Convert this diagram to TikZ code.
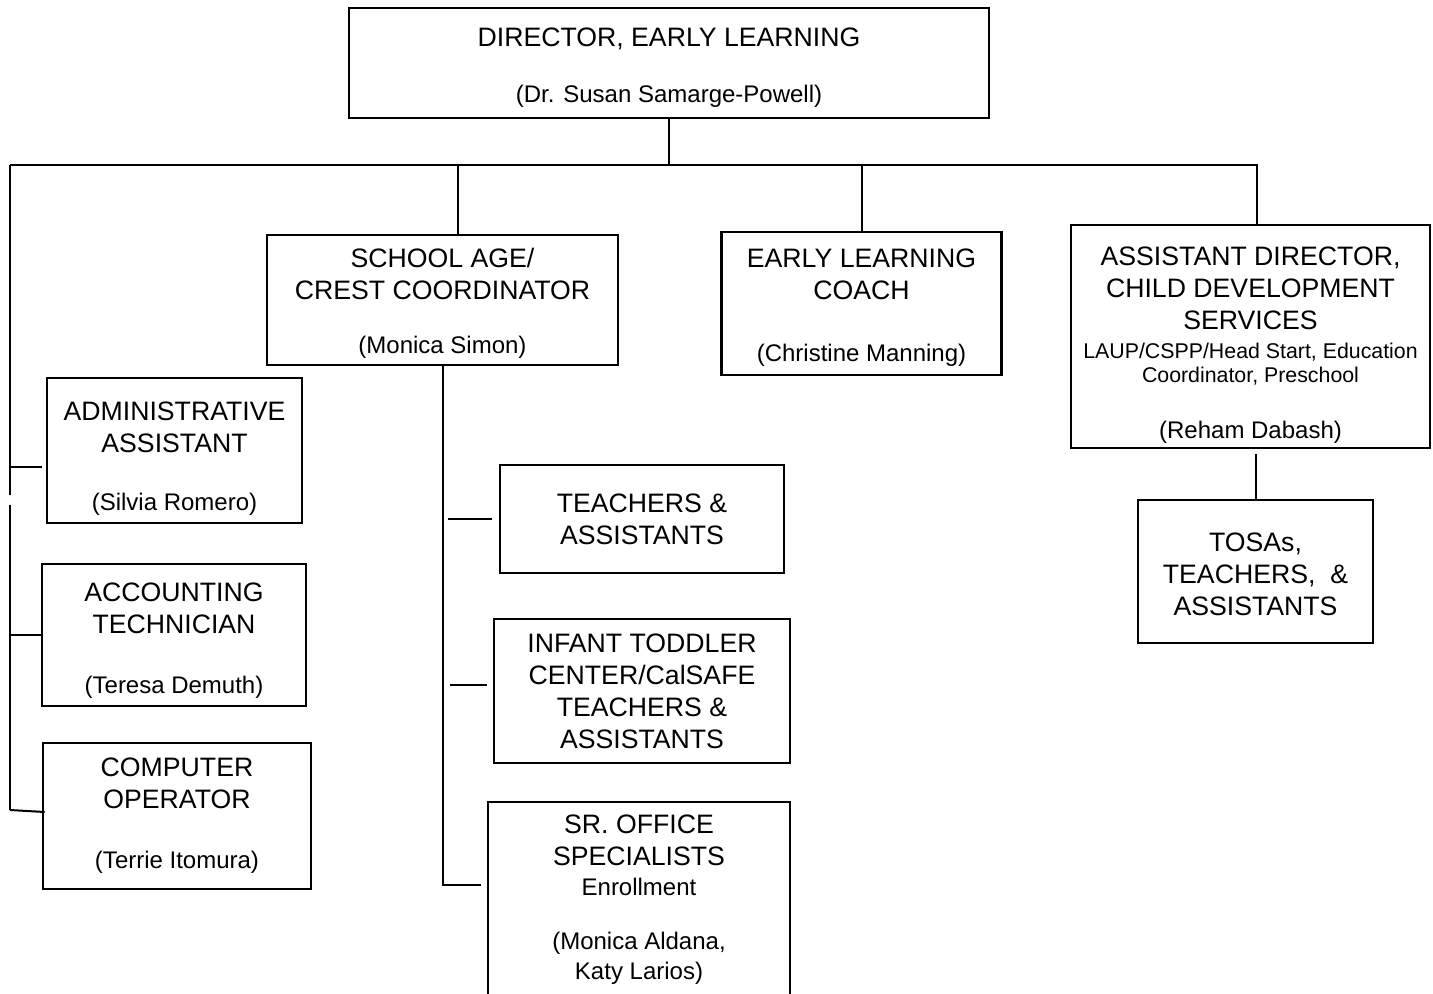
\documentclass[tikz,border=0pt]{standalone}
\usepackage{fontspec}
\setmainfont{Liberation Sans}
\usetikzlibrary{calc}
\newcommand{\ttlfont}{\fontsize{20}{24}\selectfont}
\newcommand{\namefont}{\fontsize{18}{22}\selectfont}
\newcommand{\notefont}{\fontsize{16}{19}\selectfont}
% invisible strut that pushes the text of a box down
\newcommand{\topstrut}[1]{\rule{0pt}{#1pt}}

\begin{document}
\begin{tikzpicture}[x=0.75pt, y=-0.75pt,
    box/.style={draw, line width=1.9pt, align=center, inner sep=0pt, font=\ttlfont},
    boxsize/.style 2 args={minimum width=#1*0.75pt, minimum height=#2*0.75pt},
    link/.style={line width=1.5pt}]
  \useasboundingbox (0,0) rectangle (1433,993);

  % Top box
  \node[box, boxsize={640}{110}] (dir) at (669,63)
    {\topstrut{20.75}DIRECTOR, EARLY LEARNING\\[18pt]{\namefont (Dr. Susan Samarge-Powell)}};

  % Second row
  \node[box, boxsize={351}{130}] (school) at (442.5,300)
    {\topstrut{20}SCHOOL AGE/\\CREST COORDINATOR\\[16.5pt]{\namefont (Monica Simon)}};
  \node[box, boxsize={280}{143}] (coach) at (861.5,303.5)
    {\topstrut{20}EARLY LEARNING\\COACH\\[22pt]{\namefont (Christine Manning)}};
  \node[box, boxsize={359}{223}] (asst) at (1250.5,336.5)
    {\topstrut{26.75}ASSISTANT DIRECTOR,\\CHILD DEVELOPMENT\\SERVICES\\[-2pt]{\notefont LAUP/CSPP/Head Start, Education}\\[-6pt]{\notefont Coordinator, Preschool}\\[18pt]{\namefont (Reham Dabash)}};
  \node[box, boxsize={235}{143}] (tosa) at (1255.5,571.5)
    {\topstrut{17.75}TOSAs,\\TEACHERS,\ \ \&\\ASSISTANTS};

  % Office staff
  \node[box, boxsize={255}{145}] (admin) at (174.5,450.5)
    {\topstrut{26}ADMINISTRATIVE\\ASSISTANT\\[20pt]{\namefont (Silvia Romero)}};
  \node[box, boxsize={264}{142}] (acct) at (174,635)
    {\topstrut{22.25}ACCOUNTING\\TECHNICIAN\\[21.5pt]{\namefont (Teresa Demuth)}};
  \node[box, boxsize={268}{146}] (comp) at (177,816)
    {COMPUTER\\OPERATOR\\[21pt]{\namefont (Terrie Itomura)}};

  % School age staff
  \node[box, boxsize={284}{108}] (teach) at (642,519)
    {TEACHERS \&\\ASSISTANTS};
  \node[box, boxsize={296}{144}] (infant) at (642,691)
    {INFANT TODDLER\\CENTER/CalSAFE\\TEACHERS \&\\ASSISTANTS};
  \node[box, boxsize={302}{196}] (sr) at (639,900)
    {SR. OFFICE\\SPECIALISTS\\[-2pt]{\namefont Enrollment}\\[17pt]{\namefont (Monica Aldana,}\\[-1.5pt]{\namefont Katy Larios)}};

  % Connectors
  \coordinate (bar-l) at (10,165);
  \coordinate (bar-r) at (1257,165);
  \draw[link] (bar-l) -- (bar-r);
  \draw[link] (dir.south) -- (dir.south |- bar-l);
  \draw[link] ($(school.north)+(15.5,0)$) -- ++(0,-70);
  \draw[link] (coach.north) -- (coach.north |- bar-l);
  \draw[link] ($(asst.north)+(6.5,0)$) -- ++(0,-60);
  \draw[link] (tosa.north) -- ++(0,-45);

  % left column
  \draw[link] (bar-l) -- ++(0,330);
  \draw[link] ($(bar-l)+(0,340)$) -- ++(0,305);
  \draw[link] ($(bar-l)+(0,302)$) -- ($(admin.west)+(-4,16.5)$);
  \draw[link] ($(bar-l)+(0,470)$) -- (acct.west);
  \draw[link] ($(bar-l)+(0,645)$) -- ($(comp.west)+(3,-4)$);

  % school age column
  \draw[link] (school.south) |- ($(sr.north west)+(-6,84)$);
  \draw[link] ($(teach.west)+(-7,0)$) -- ++(-44,0);
  \draw[link] ($(infant.west)+(-6,-6)$) -- ++(-37,0);
\end{tikzpicture}
\end{document}
